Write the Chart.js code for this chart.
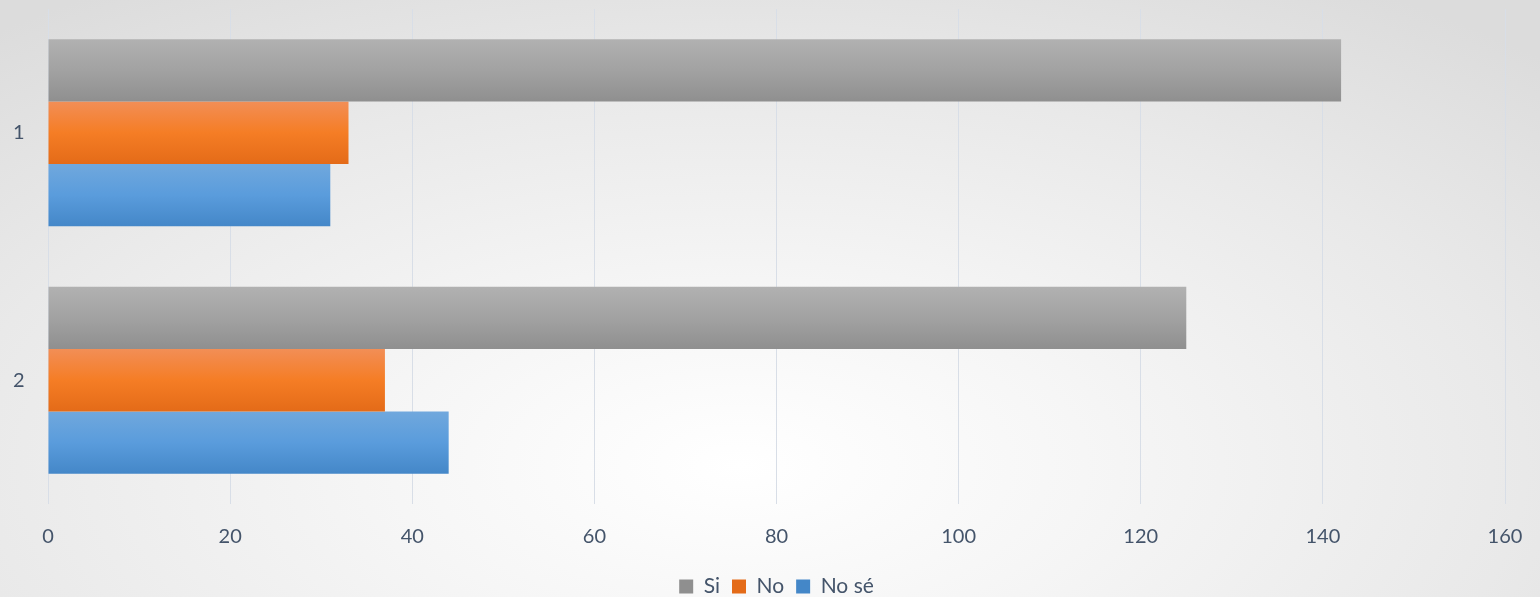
<!DOCTYPE html>
<html>
<head>
<meta charset="utf-8">
<script src="https://cdn.jsdelivr.net/npm/chart.js@4/dist/chart.umd.min.js"></script>
<style>
    html, body { margin: 0; padding: 0; }
    body {
        width: 1540px;
        height: 597px;
        background: radial-gradient(ellipse 75% 95% at 48% 78%, #ffffff 0%, #f6f6f6 30%, #e9e9e9 68%, #dcdcdc 100%);
        overflow: hidden;
    }
    #wrap { position: relative; width: 1540px; height: 607px; }
</style>
</head>
<body>
<div id="wrap"><canvas id="surveyChart"></canvas></div>
<script>
// Datos
const categories = ['1', '2'];
const siValues = [142, 125];
const noValues = [33, 37];
const noSeValues = [31, 44];
const xTicks = [0, 20, 40, 60, 80, 100, 120, 140, 160];

const textColor = '#44546a';
const CAT_PCT = 0.756;

// Degradado vertical para cada barra (claro arriba, oscuro abajo)
function barGradient(stops, solid) {
    return function(context) {
        const chart = context.chart;
        const yScale = chart.scales.y;
        if (!chart.chartArea || !yScale || context.dataIndex === undefined) {
            return solid;
        }
        const catSize = (yScale.bottom - yScale.top) / categories.length;
        const barSize = catSize * CAT_PCT / 3;
        const center = yScale.getPixelForValue(context.dataIndex);
        const top = center - catSize * CAT_PCT / 2 + context.datasetIndex * barSize;
        const g = chart.ctx.createLinearGradient(0, top, 0, top + barSize);
        g.addColorStop(0, stops[0]);
        g.addColorStop(0.5, stops[1]);
        g.addColorStop(1, stops[2]);
        return g;
    };
}

let surveyChart = null;

function initSurveyChart() {
    const ctx = document.getElementById('surveyChart').getContext('2d');

    surveyChart = new Chart(ctx, {
        type: 'bar',
        data: {
            labels: categories,
            datasets: [{
                label: 'Si',
                data: siValues,
                backgroundColor: barGradient(['#b1b1b1', '#a2a2a2', '#8f8f8f'], '#a5a5a5')
            }, {
                label: 'No',
                data: noValues,
                backgroundColor: barGradient(['#f28e56', '#f57d25', '#e46b18'], '#ed7d31')
            }, {
                label: 'No sé',
                data: noSeValues,
                backgroundColor: barGradient(['#70a8dd', '#5a9cdc', '#4487c8'], '#5b9bd5')
            }]
        },
        options: {
            indexAxis: 'y',
            responsive: true,
            maintainAspectRatio: false,
            animation: false,
            devicePixelRatio: 1,
            layout: {
                padding: { left: 13, right: 35, top: 9, bottom: 0 }
            },
            datasets: {
                bar: {
                    categoryPercentage: CAT_PCT,
                    barPercentage: 1.0,
                    borderWidth: 0
                }
            },
            plugins: {
                legend: {
                    position: 'bottom',
                    fullSize: false,
                    labels: {
                        color: textColor,
                        boxWidth: 14,
                        boxHeight: 14,
                        padding: 12,
                        font: { family: 'Lato', size: 21 }
                    }
                },
                tooltip: { enabled: false }
            },
            scales: {
                x: {
                    min: 0,
                    max: 160,
                    afterBuildTicks: function(scale) {
                        scale.ticks = xTicks.map(v => ({ value: v }));
                    },
                    afterFit: function(scale) {
                        scale.height = 60;
                        scale.paddingLeft = 0;
                        scale.paddingRight = 0;
                    },
                    grid: {
                        color: '#d8dee7',
                        lineWidth: 1,
                        drawTicks: false
                    },
                    border: { display: false },
                    ticks: {
                        color: textColor,
                        padding: 21,
                        font: { family: 'Lato', size: 20 }
                    }
                },
                y: {
                    afterFit: function(scale) {
                        scale.width = 35;
                        scale.paddingTop = 0;
                        scale.paddingBottom = 0;
                    },
                    grid: { display: false, drawTicks: false },
                    border: { display: false },
                    ticks: {
                        color: textColor,
                        padding: 0,
                        crossAlign: 'far',
                        font: { family: 'Lato', size: 20 }
                    }
                }
            }
        }
    });
}

document.addEventListener('DOMContentLoaded', function() {
    initSurveyChart();
});
</script>
</body>
</html>
